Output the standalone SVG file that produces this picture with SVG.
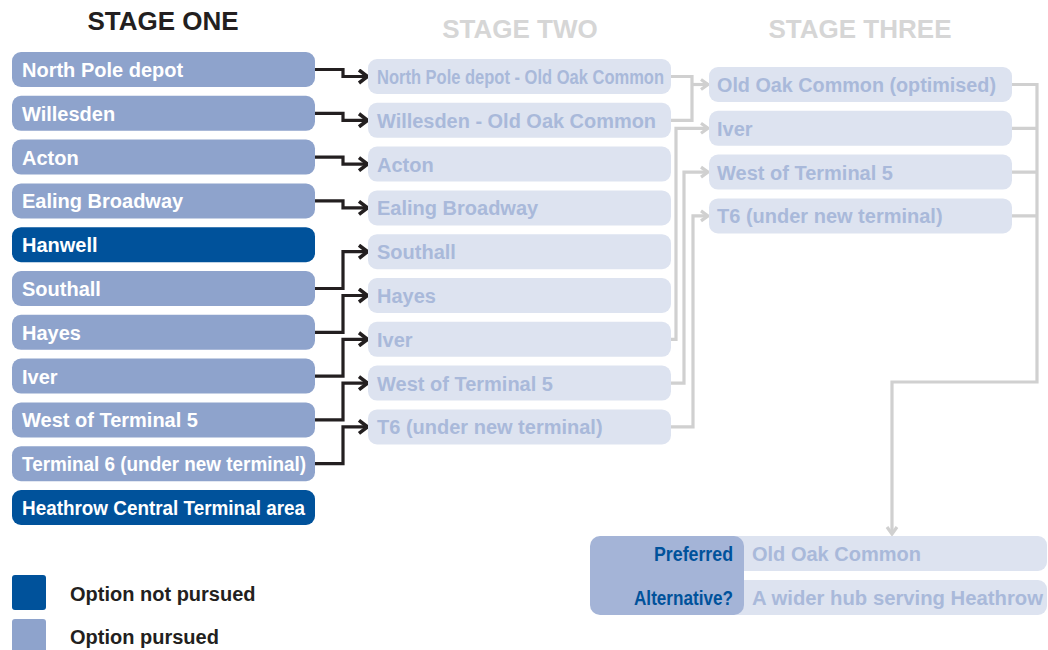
<svg xmlns="http://www.w3.org/2000/svg" width="1048" height="650" viewBox="0 0 1048 650">
<style>
text{font-family:"Liberation Sans",Arial,sans-serif;font-weight:bold;font-size:20px}
.head{font-size:26px;text-anchor:middle}
.pur{fill:#8ea3cc}
.not{fill:#00529b}
.lt{fill:#dde3f0}
.wt{fill:#ffffff}
.lx{fill:#a9b9da}
.bk{fill:#231f20}
.blk{fill:none;stroke:#231f20;stroke-width:3.2;stroke-linejoin:miter}
.gry{fill:none;stroke:#d0d0d0;stroke-width:3.2;stroke-linejoin:miter}
</style>
<defs>
<marker id="ab" markerUnits="userSpaceOnUse" markerWidth="14" markerHeight="16" refX="11" refY="8" orient="auto" viewBox="0 0 14 16">
<path d="M3,1.5 L11.5,8 L3,14.5" fill="none" stroke="#231f20" stroke-width="3.6"/>
</marker>
<marker id="ag" markerUnits="userSpaceOnUse" markerWidth="14" markerHeight="16" refX="11" refY="8" orient="auto" viewBox="0 0 14 16">
<path d="M4,3 L11,8 L4,13" fill="none" stroke="#d0d0d0" stroke-width="3.2"/>
</marker>
</defs>
<rect width="1048" height="650" fill="#ffffff"/>

<text class="head bk" x="163" y="30">STAGE ONE</text>
<text class="head" x="520" y="38" fill="#d6d6d6">STAGE TWO</text>
<text class="head" x="860" y="38" fill="#d6d6d6">STAGE THREE</text>

<g id="connectors">
<path class="blk" marker-end="url(#ab)" d="M315,69.5 H343 V76.5 H367"/>
<path class="blk" marker-end="url(#ab)" d="M315,113.3 H343 V120.3 H367"/>
<path class="blk" marker-end="url(#ab)" d="M315,157.1 H343 V164.1 H367"/>
<path class="blk" marker-end="url(#ab)" d="M315,200.9 H343 V207.9 H367"/>
<path class="blk" marker-end="url(#ab)" d="M315,288.5 H343 V251.7 H367"/>
<path class="blk" marker-end="url(#ab)" d="M315,332.3 H343 V295.5 H367"/>
<path class="blk" marker-end="url(#ab)" d="M315,376.1 H343 V339.3 H367"/>
<path class="blk" marker-end="url(#ab)" d="M315,419.9 H343 V383.1 H367"/>
<path class="blk" marker-end="url(#ab)" d="M315,463.7 H343 V426.9 H367"/>

<path class="gry" d="M671,76.5 H692 V120.3 H671"/>
<path class="gry" marker-end="url(#ag)" d="M692,84.5 H708"/>
<path class="gry" marker-end="url(#ag)" d="M671,339.3 H676 V128.3 H708"/>
<path class="gry" marker-end="url(#ag)" d="M671,383.1 H684 V172.1 H708"/>
<path class="gry" marker-end="url(#ag)" d="M671,426.9 H693 V215.9 H708"/>

<path class="gry" marker-end="url(#ag)" d="M1012,84.5 H1037 V382 H892 V534"/>
<path class="gry" d="M1012,128.3 H1037 M1012,172.1 H1037 M1012,215.9 H1037"/>
</g>

<g id="s1-north-pole"><rect class="pur" x="12" y="52" width="303" height="35" rx="9"/><text class="wt" x="22" y="77">North Pole depot</text></g>
<g id="s1-willesden"><rect class="pur" x="12" y="95.8" width="303" height="35" rx="9"/><text class="wt" x="22" y="120.8">Willesden</text></g>
<g id="s1-acton"><rect class="pur" x="12" y="139.6" width="303" height="35" rx="9"/><text class="wt" x="22" y="164.6">Acton</text></g>
<g id="s1-ealing"><rect class="pur" x="12" y="183.4" width="303" height="35" rx="9"/><text class="wt" x="22" y="208.4">Ealing Broadway</text></g>
<g id="s1-hanwell"><rect class="not" x="12" y="227.2" width="303" height="35" rx="9"/><text class="wt" x="22" y="252.2">Hanwell</text></g>
<g id="s1-southall"><rect class="pur" x="12" y="271" width="303" height="35" rx="9"/><text class="wt" x="22" y="296">Southall</text></g>
<g id="s1-hayes"><rect class="pur" x="12" y="314.8" width="303" height="35" rx="9"/><text class="wt" x="22" y="339.8">Hayes</text></g>
<g id="s1-iver"><rect class="pur" x="12" y="358.6" width="303" height="35" rx="9"/><text class="wt" x="22" y="383.6">Iver</text></g>
<g id="s1-west-t5"><rect class="pur" x="12" y="402.4" width="303" height="35" rx="9"/><text class="wt" x="22" y="427.4">West of Terminal 5</text></g>
<g id="s1-t6"><rect class="pur" x="12" y="446.2" width="303" height="35" rx="9"/><text class="wt" x="22" y="471.2" textLength="284" lengthAdjust="spacingAndGlyphs">Terminal 6 (under new terminal)</text></g>
<g id="s1-heathrow"><rect class="not" x="12" y="490" width="303" height="35" rx="9"/><text class="wt" x="22" y="515" textLength="283" lengthAdjust="spacingAndGlyphs">Heathrow Central Terminal area</text></g>

<g id="s2-npd-ooc"><rect class="lt" x="368" y="59" width="303" height="35" rx="9"/><text class="lx" x="377" y="84" textLength="287" lengthAdjust="spacingAndGlyphs">North Pole depot - Old Oak Common</text></g>
<g id="s2-wil-ooc"><rect class="lt" x="368" y="102.8" width="303" height="35" rx="9"/><text class="lx" x="377" y="127.8" textLength="279" lengthAdjust="spacingAndGlyphs">Willesden - Old Oak Common</text></g>
<g id="s2-acton"><rect class="lt" x="368" y="146.6" width="303" height="35" rx="9"/><text class="lx" x="377" y="171.6">Acton</text></g>
<g id="s2-ealing"><rect class="lt" x="368" y="190.4" width="303" height="35" rx="9"/><text class="lx" x="377" y="215.4">Ealing Broadway</text></g>
<g id="s2-southall"><rect class="lt" x="368" y="234.2" width="303" height="35" rx="9"/><text class="lx" x="377" y="259.2">Southall</text></g>
<g id="s2-hayes"><rect class="lt" x="368" y="278" width="303" height="35" rx="9"/><text class="lx" x="377" y="303">Hayes</text></g>
<g id="s2-iver"><rect class="lt" x="368" y="321.8" width="303" height="35" rx="9"/><text class="lx" x="377" y="346.8">Iver</text></g>
<g id="s2-west-t5"><rect class="lt" x="368" y="365.6" width="303" height="35" rx="9"/><text class="lx" x="377" y="390.6">West of Terminal 5</text></g>
<g id="s2-t6"><rect class="lt" x="368" y="409.4" width="303" height="35" rx="9"/><text class="lx" x="377" y="434.4">T6 (under new terminal)</text></g>

<g id="s3-ooc"><rect class="lt" x="709" y="67" width="303" height="35" rx="9"/><text class="lx" x="717" y="92" textLength="279" lengthAdjust="spacingAndGlyphs">Old Oak Common (optimised)</text></g>
<g id="s3-iver"><rect class="lt" x="709" y="110.8" width="303" height="35" rx="9"/><text class="lx" x="717" y="135.8">Iver</text></g>
<g id="s3-west-t5"><rect class="lt" x="709" y="154.6" width="303" height="35" rx="9"/><text class="lx" x="717" y="179.6">West of Terminal 5</text></g>
<g id="s3-t6"><rect class="lt" x="709" y="198.4" width="303" height="35" rx="9"/><text class="lx" x="717" y="223.4">T6 (under new terminal)</text></g>

<g id="outcome">
<rect class="lt" x="700" y="536" width="347" height="35" rx="9"/>
<rect class="lt" x="700" y="580" width="347" height="35" rx="9"/>
<rect x="590" y="536" width="154" height="79" rx="10" fill="#a4b4d7"/>
<text x="654" y="561" fill="#00529b" textLength="79" lengthAdjust="spacingAndGlyphs">Preferred</text>
<text x="634" y="605" fill="#00529b" textLength="99" lengthAdjust="spacingAndGlyphs">Alternative?</text>
<text class="lx" x="752" y="561">Old Oak Common</text>
<text class="lx" x="752" y="605" textLength="291" lengthAdjust="spacingAndGlyphs">A wider hub serving Heathrow</text>
</g>

<g id="legend">
<rect class="not" x="12" y="575" width="34" height="35" rx="3"/>
<text class="bk" x="70" y="601">Option not pursued</text>
<rect class="pur" x="12" y="619" width="34" height="35" rx="3"/>
<text class="bk" x="70" y="644">Option pursued</text>
</g>
</svg>
